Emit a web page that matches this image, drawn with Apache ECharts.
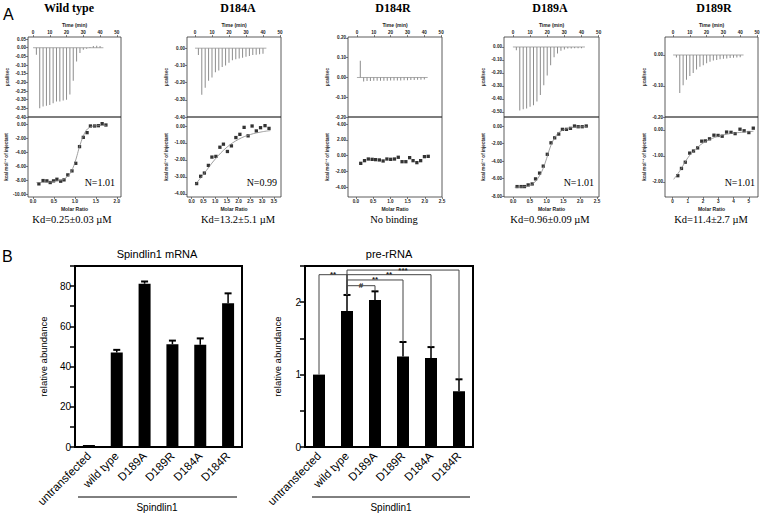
<!DOCTYPE html>
<html><head><meta charset="utf-8">
<script src="https://cdn.jsdelivr.net/npm/echarts@6/dist/echarts.min.js"></script>
<style>html,body{margin:0;padding:0;background:#fff}#c{width:762px;height:515px}</style>
</head><body><div id="c"></div>
<script>
// ===== DATA =====
const itcTitles = ['Wild type', 'D184A', 'D184R', 'D189A', 'D189R'];
const itcKd = ['Kd=0.25±0.03 µM', 'Kd=13.2±5.1 µM', 'No binding', 'Kd=0.96±0.09 µM', 'Kd=11.4±2.7 µM'];
const itcN = ['N=1.01', 'N=0.99', '', 'N=1.01', 'N=1.01'];

const injTime = [2,4,6,8,10,12,14,16,18,20,22,24,26,28,30,32,34,36,38,40];
const baseTime = [0, 42];
const baseHeat = [0, 0];
const wtHeat   = [-0.04,-0.35,-0.34,-0.335,-0.33,-0.32,-0.31,-0.31,-0.305,-0.30,-0.27,-0.19,-0.08,-0.03,-0.012,-0.006,0.004,0.01,0.012,0.01];
const d184aHeat= [-0.04,-0.27,-0.23,-0.19,-0.17,-0.14,-0.13,-0.11,-0.10,-0.085,-0.07,-0.065,-0.06,-0.055,-0.05,-0.045,-0.04,-0.038,-0.035,-0.033];
const d184rHeat= [0.085,-0.02,-0.018,-0.018,-0.017,-0.017,-0.016,-0.016,-0.016,-0.015,-0.015,-0.015,-0.015,-0.014,-0.014,-0.013,-0.013,-0.012,-0.012,-0.01];
const d189aHeat= [-0.025,-0.49,-0.48,-0.475,-0.46,-0.45,-0.42,-0.37,-0.295,-0.22,-0.14,-0.08,-0.05,-0.03,-0.02,-0.012,-0.012,-0.01,-0.01,-0.01];
const d189rHeat= [-0.008,-0.123,-0.098,-0.08,-0.068,-0.058,-0.047,-0.038,-0.033,-0.027,-0.022,-0.018,-0.016,-0.014,-0.012,-0.011,-0.01,-0.009,-0.008,-0.007];

const wtRatio  = [0.14,0.24,0.33,0.41,0.49,0.57,0.66,0.74,0.83,0.93,1.02,1.11,1.20,1.29,1.37,1.47,1.56,1.65,1.74];
const wtKcal   = [-8.53,-8.06,-8.1,-8.34,-8.1,-7.87,-8.15,-7.96,-7.25,-6.68,-5.6,-3.22,-1.9,-1.23,-0.28,-0.28,-0.24,0.05,-0.14];
const wtFitRatio = [0.08,0.3,0.5,0.7,0.8,0.9,0.95,1.0,1.05,1.1,1.15,1.2,1.25,1.3,1.4,1.5,1.75];
const wtFitKcal  = [-8.35,-8.3,-8.2,-7.95,-7.6,-6.9,-6.3,-5.5,-4.5,-3.4,-2.5,-1.7,-1.1,-0.7,-0.35,-0.25,-0.2];

const d184aRatio = [0.21,0.38,0.54,0.71,0.86,1.03,1.20,1.35,1.52,1.69,1.88,2.05,2.23,2.40,2.57,2.75,2.93,3.12,3.29];
const d184aKcal  = [-3.39,-2.96,-2.77,-2.32,-1.83,-1.79,-1.25,-1.07,-1.5,-1.17,-0.68,-0.49,-0.08,-0.58,0.0,-0.29,-0.1,0.02,-0.14];
const d184aFitRatio = [0.15,0.5,1.0,1.5,2.0,2.5,3.0,3.35];
const d184aFitKcal  = [-3.45,-2.85,-1.95,-1.25,-0.78,-0.5,-0.34,-0.27];

const d184rRatio = [0.14,0.25,0.36,0.47,0.57,0.68,0.79,0.90,1.01,1.12,1.23,1.34,1.45,1.56,1.66,1.77,1.88,1.99,2.10];
const d184rKcal  = [-0.98,-0.64,-0.43,-0.47,-0.51,-0.55,-0.68,-0.43,-0.47,-0.43,-0.21,-0.77,-0.77,-0.26,-0.64,-0.89,-0.64,-0.13,-0.09];
const d184rFitRatio = [];
const d184rFitKcal  = [];

const d189aRatio = [0.12,0.24,0.34,0.45,0.57,0.67,0.79,0.90,1.02,1.13,1.24,1.36,1.47,1.59,1.71,1.83,1.94,2.06,2.18];
const d189aKcal  = [-6.92,-6.92,-6.92,-6.73,-6.62,-6.04,-5.38,-4.58,-3.23,-1.92,-1.35,-0.92,-0.38,-0.38,-0.27,0.0,-0.08,-0.08,0.0];
const d189aFitRatio = [0.05,0.3,0.5,0.65,0.8,0.9,1.0,1.1,1.2,1.3,1.4,1.6,1.8,2.2];
const d189aFitKcal  = [-7.0,-6.95,-6.8,-6.4,-5.6,-4.8,-3.7,-2.5,-1.6,-1.0,-0.65,-0.3,-0.15,-0.08];

const d189rRatio = [0.34,0.58,0.83,1.12,1.37,1.64,1.91,2.15,2.42,2.71,2.98,3.25,3.54,3.83,4.10,4.42,4.69,5.0,5.29];
const d189rKcal  = [-1.76,-1.48,-1.24,-0.89,-0.81,-0.69,-0.43,-0.42,-0.34,-0.2,-0.21,-0.24,-0.08,-0.09,-0.14,0.03,-0.03,-0.1,0.07];
const d189rFitRatio = [0.07,0.5,1.0,1.5,2.0,2.5,3.0,3.5,4.0,4.5,5.3];
const d189rFitKcal  = [-1.9,-1.55,-1.07,-0.74,-0.5,-0.35,-0.24,-0.17,-0.12,-0.09,-0.05];

const timeTicks = [0,10,20,30,40,50];
const wtHeatTicks = [0.05,0,-0.05,-0.1,-0.15,-0.2,-0.25,-0.3,-0.35,-0.4];
const d184aHeatTicks = [0,-0.1,-0.2,-0.3,-0.4];
const d184rHeatTicks = [0.2,0.1,0,-0.1,-0.2];
const d189aHeatTicks = [0,-0.1,-0.2,-0.3,-0.4,-0.5];
const d189rHeatTicks = [0,-0.1,-0.2];
const wtKcalTicks = [0,-2,-4,-6,-8,-10];
const d184aKcalTicks = [0,-1,-2,-3,-4];
const d184rKcalTicks = [4,2,0,-2,-4];
const d189aKcalTicks = [0,-2,-4,-6,-8];
const d189rKcalTicks = [0,-1,-2];
const wtRatioTicks = [0,0.5,1,1.5,2];
const d184aRatioTicks = [0,0.5,1,1.5,2,2.5,3,3.5];
const d184rRatioTicks = [0,0.5,1,1.5,2,2.5];
const d189aRatioTicks = [0,0.5,1,1.5,2,2.5];
const d189rRatioTicks = [0,1,2,3,4,5];

const barCats = ['untransfected', 'wild type', 'D189A', 'D189R', 'D184A', 'D184R'];
const mrnaVals = [1, 47, 81.2, 51.1, 50.8, 71.5];
const mrnaErr  = [0, 1.3, 1.1, 1.8, 3.2, 4.9];
const rrnaVals = [1.0, 1.88, 2.03, 1.25, 1.23, 0.77];
const rrnaErr  = [0, 0.22, 0.12, 0.20, 0.15, 0.165];
const sigFrom  = ['untransfected', 'wild type', 'wild type', 'wild type', 'wild type'];
const sigTo    = ['wild type', 'D184R', 'D184A', 'D189R', 'D189A'];
const sigLevel = [2.38, 2.444, 2.38, 2.307, 2.228];
const sigMark  = ['**', '***', '**', '**', '#'];

// ===== LAYOUT / STYLE =====
const heats = [wtHeat, d184aHeat, d184rHeat, d189aHeat, d189rHeat];
const ratios = [wtRatio, d184aRatio, d184rRatio, d189aRatio, d189rRatio];
const kcals = [wtKcal, d184aKcal, d184rKcal, d189aKcal, d189rKcal];
const fitRatios = [wtFitRatio, d184aFitRatio, d184rFitRatio, d189aFitRatio, d189rFitRatio];
const fitKcals = [wtFitKcal, d184aFitKcal, d184rFitKcal, d189aFitKcal, d189rFitKcal];
const heatTicks = [wtHeatTicks, d184aHeatTicks, d184rHeatTicks, d189aHeatTicks, d189rHeatTicks];
const kcalTicks = [wtKcalTicks, d184aKcalTicks, d184rKcalTicks, d189aKcalTicks, d189rKcalTicks];
const ratioTicks = [wtRatioTicks, d184aRatioTicks, d184rRatioTicks, d189aRatioTicks, d189rRatioTicks];
const ratioDec = [1,1,1,1,0];

const panelLeft = [28, 187, 348, 504, 665];
const panelWidth = [93, 94, 94, 95, 93];
const timeRange = [[-3,52.5],[-4.7,50.6],[-5.3,50.5],[-5.2,50.2],[-4.8,50.6]];
const heatRange = [[-0.40,0.062],[-0.40,0.065],[-0.2,0.205],[-0.54,0.077],[-0.2,0.058]];
const ratioRange = [[-0.12,2.1],[-0.2,3.8],[-0.23,2.5],[-0.27,2.56],[-0.5,5.6]];
const kcalRange = [[-10.4,1.0],[-4.18,0.53],[-5.25,4.9],[-8.11,1.03],[-2.58,0.5]];
const titleX = [69, 238, 393, 550, 714];
const kdX = [72, 238, 394, 550, 711];
const nRight = [115, 277, 0, 594, 755];

const SANS = '"Liberation Sans", Arial, sans-serif';
const SERIF = '"Liberation Serif", "Times New Roman", serif';
const tiny = {fontSize: 4.6, fontWeight: 'bold', fontFamily: SANS, color: '#222'};

const grids = [], xAxes = [], yAxes = [], series = [], graphics = [];

for (let i = 0; i < 5; i++) {
  const L = panelLeft[i], W = panelWidth[i];
  grids.push({left: L, top: 37, width: W, height: 80, show: true, borderColor: '#333', borderWidth: 0.8, outerBoundsMode: 'none'});
  grids.push({left: L, top: 117, width: W, height: 80, show: true, borderColor: '#333', borderWidth: 0.8, outerBoundsMode: 'none'});
  const gT = 2*i, gB = 2*i+1;
  const tickStyle = {lineStyle: {color: '#333', width: 0.6}, length: 2};
  const noLine = {show: false, onZero: false};
  xAxes.push({type: 'value', gridIndex: gT, position: 'top', min: timeRange[i][0], max: timeRange[i][1],
    axisLine: noLine, splitLine: {show: false},
    axisTick: Object.assign({customValues: timeTicks}, tickStyle),
    axisLabel: Object.assign({customValues: timeTicks, margin: 2}, tiny),
    name: 'Time (min)', nameLocation: 'middle', nameGap: 9.5, nameTextStyle: Object.assign({}, tiny, {fontSize: 5})});
  yAxes.push({type: 'value', gridIndex: gT, position: 'left', min: heatRange[i][0], max: heatRange[i][1],
    axisLine: noLine, splitLine: {show: false},
    axisTick: Object.assign({customValues: heatTicks[i]}, tickStyle),
    axisLabel: Object.assign({customValues: heatTicks[i], margin: 2, formatter: v => v.toFixed(2)}, tiny),
    name: 'µcal/sec', nameLocation: 'middle', nameGap: 18, nameTextStyle: tiny});
  xAxes.push({type: 'value', gridIndex: gB, position: 'bottom', min: ratioRange[i][0], max: ratioRange[i][1],
    axisLine: noLine, splitLine: {show: false},
    axisTick: Object.assign({customValues: ratioTicks[i]}, tickStyle),
    axisLabel: Object.assign({customValues: ratioTicks[i], margin: 2, formatter: v => v.toFixed(ratioDec[i])}, tiny),
    name: 'Molar Ratio', nameLocation: 'middle', nameGap: 9.5, nameTextStyle: Object.assign({}, tiny, {fontSize: 5})});
  yAxes.push({type: 'value', gridIndex: gB, position: 'left', min: kcalRange[i][0], max: kcalRange[i][1],
    axisLine: noLine, splitLine: {show: false},
    axisTick: Object.assign({customValues: kcalTicks[i]}, tickStyle),
    axisLabel: Object.assign({customValues: kcalTicks[i], margin: 2, formatter: v => v.toFixed(2)}, tiny),
    name: 'kcal mol⁻¹ of injectant', nameLocation: 'middle', nameGap: 18, nameTextStyle: tiny});

  series.push({type: 'line', xAxisIndex: gT, yAxisIndex: gT, data: baseTime.map((t, k) => [t, baseHeat[k]]),
    symbol: 'none', lineStyle: {color: '#888', width: 0.7}, silent: true});
  series.push({type: 'bar', xAxisIndex: gT, yAxisIndex: gT, data: injTime.map((t, k) => [t, heats[i][k]]),
    barWidth: 1, itemStyle: {color: '#8c8c8c'}, silent: true});
  if (fitRatios[i].length) {
    series.push({type: 'line', xAxisIndex: gB, yAxisIndex: gB, data: fitRatios[i].map((r, k) => [r, fitKcals[i][k]]),
      symbol: 'none', smooth: 0.4, lineStyle: {color: '#888', width: 0.8}, silent: true});
  }
  series.push({type: 'scatter', xAxisIndex: gB, yAxisIndex: gB, data: ratios[i].map((r, k) => [r, kcals[i][k]]),
    symbol: 'rect', symbolSize: 3.3, itemStyle: {color: '#000'}, silent: true});

  graphics.push({type: 'text', x: titleX[i], y: 7.5, style: {text: itcTitles[i], font: 'bold 12px ' + SERIF, fill: '#000', align: 'center', verticalAlign: 'middle'}});
  graphics.push({type: 'text', x: kdX[i], y: 219.5, style: {text: itcKd[i], font: '10.5px ' + SERIF, fill: '#000', align: 'center', verticalAlign: 'middle'}});
  if (itcN[i]) graphics.push({type: 'text', x: nRight[i], y: 182, z: 10, style: {text: itcN[i], font: '10px ' + SERIF, fill: '#000', align: 'right', verticalAlign: 'middle'}});
}

// Bar charts (B)
const barGrids = [{left: 75, top: 266, width: 167, height: 181}, {left: 305, top: 266, width: 168, height: 181}];
const barMax = [90, 2.5], barInt = [10, 0.5];
const barVals = [mrnaVals, rrnaVals], barErrs = [mrnaErr, rrnaErr];
const nameGaps = [27, 23];
for (let j = 0; j < 2; j++) {
  const g = 10 + j;
  grids.push(Object.assign({show: true, borderColor: '#000', borderWidth: 2, outerBoundsMode: 'none'}, barGrids[j]));
  xAxes.push({type: 'category', gridIndex: g, data: barCats,
    axisLine: {onZero: false, lineStyle: {color: '#000', width: 2}},
    axisTick: {length: 4, lineStyle: {color: '#000', width: 1.5}},
    axisLabel: {rotate: 45, interval: 0, fontSize: 11.5, fontFamily: SANS, color: '#000', margin: 7}});
  yAxes.push({type: 'value', gridIndex: g, min: 0, max: barMax[j], interval: barInt[j],
    axisLine: {show: true, onZero: false, lineStyle: {color: '#000', width: 2}},
    axisTick: {show: true, length: 5, lineStyle: {color: '#000', width: 1.5}},
    splitLine: {show: false},
    axisLabel: {fontSize: 10, fontFamily: SANS, color: '#000', margin: 4,
      formatter: j === 0 ? (v => (v % 20 === 0 ? String(v) : '')) : (v => (Number.isInteger(v) ? String(v) : ''))},
    name: 'relative abundance', nameLocation: 'middle', nameGap: nameGaps[j],
    nameTextStyle: {fontSize: 9.5, fontFamily: SANS, color: '#000'}});
  series.push({type: 'bar', xAxisIndex: g, yAxisIndex: g, data: barVals[j], barWidth: 12, itemStyle: {color: '#000'}, silent: true});
  series.push({type: 'custom', xAxisIndex: g, yAxisIndex: g, silent: true, z: 3,
    data: barVals[j].map((v, k) => [k, v, v + barErrs[j][k]]),
    renderItem: function (params, api) {
      if (api.value(2) <= api.value(1)) return null;
      const b = api.coord([api.value(0), api.value(1)]);
      const t = api.coord([api.value(0), api.value(2)]);
      return {type: 'group', children: [
        {type: 'line', shape: {x1: b[0], y1: b[1], x2: t[0], y2: t[1]}, style: {stroke: '#000', lineWidth: 1.5}},
        {type: 'line', shape: {x1: t[0] - 3.5, y1: t[1], x2: t[0] + 3.5, y2: t[1]}, style: {stroke: '#000', lineWidth: 2}}
      ]};
    }});
}
// significance brackets on pre-rRNA
series.push({type: 'custom', xAxisIndex: 11, yAxisIndex: 11, silent: true, z: 4,
  data: sigFrom.map((f, k) => {
    const a = barCats.indexOf(f), b = barCats.indexOf(sigTo[k]);
    return [a, b, sigLevel[k], rrnaVals[a] + rrnaErr[a], rrnaVals[b] + rrnaErr[b]];
  }),
  renderItem: function (params, api) {
    const a = api.value(0), b = api.value(1), h = api.value(2);
    const p1 = api.coord([a, api.value(3)]), p2 = api.coord([a, h]), p3 = api.coord([b, h]), p4 = api.coord([b, api.value(4)]);
    return {type: 'group', children: [
      {type: 'polyline', shape: {points: [p1, p2, p3, p4]}, style: {stroke: '#444', lineWidth: 1, fill: null}},
      {type: 'text', x: (p2[0] + p3[0]) / 2, y: p2[1] + 4, style: {text: sigMark[params.dataIndex], font: 'bold 8px ' + SANS, fill: '#222', align: 'center', verticalAlign: 'bottom'}}
    ]};
  }});

graphics.push({type: 'text', x: 3, y: 14, style: {text: 'A', font: '16px ' + SANS, fill: '#000', verticalAlign: 'middle'}});
graphics.push({type: 'text', x: 2, y: 256, style: {text: 'B', font: '16px ' + SANS, fill: '#000', verticalAlign: 'middle'}});
graphics.push({type: 'text', x: 157, y: 254, style: {text: 'Spindlin1 mRNA', font: '11px ' + SANS, fill: '#000', align: 'center', verticalAlign: 'middle'}});
graphics.push({type: 'text', x: 389, y: 254, style: {text: 'pre-rRNA', font: '11px ' + SANS, fill: '#000', align: 'center', verticalAlign: 'middle'}});
graphics.push({type: 'line', shape: {x1: 78, y1: 497, x2: 237, y2: 497}, style: {stroke: '#000', lineWidth: 1}});
graphics.push({type: 'line', shape: {x1: 312, y1: 497, x2: 470, y2: 497}, style: {stroke: '#000', lineWidth: 1}});
graphics.push({type: 'text', x: 157, y: 507, style: {text: 'Spindlin1', font: '10px ' + SANS, fill: '#000', align: 'center', verticalAlign: 'middle'}});
graphics.push({type: 'text', x: 391, y: 507, style: {text: 'Spindlin1', font: '10px ' + SANS, fill: '#000', align: 'center', verticalAlign: 'middle'}});

const chart = echarts.init(document.getElementById('c'), null, {renderer: 'svg'});
chart.setOption({
  animation: false,
  backgroundColor: '#fff',
  grid: grids, xAxis: xAxes, yAxis: yAxes, series: series,
  graphic: graphics
});
</script></body></html>
